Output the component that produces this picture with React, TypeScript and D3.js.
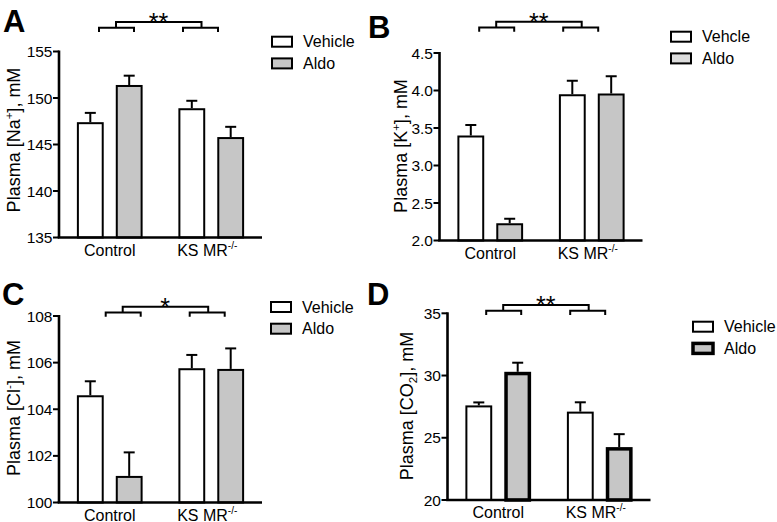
import React from "react";
import * as d3 from "d3";

const categories = ["Control", "KS MR"];
const series = ["Vehicle", "Aldo"];

const naVehicle = [147.4, 148.9];
const naVehicleErr = [1.0, 0.8];
const naAldo = [151.4, 145.8];
const naAldoErr = [1.0, 1.1];
const naTicks = [135, 140, 145, 150, 155];

const kVehicle = [3.4, 3.95];
const kVehicleErr = [0.14, 0.18];
const kAldo = [2.23, 3.96];
const kAldoErr = [0.06, 0.23];
const kTicks = [2.0, 2.5, 3.0, 3.5, 4.0, 4.5];

const clVehicle = [104.6, 105.76];
const clVehicleErr = [0.6, 0.57];
const clAldo = [101.14, 105.73];
const clAldoErr = [1.01, 0.88];
const clTicks = [100, 102, 104, 106, 108];

const co2Vehicle = [27.6, 27.1];
const co2VehicleErr = [0.24, 0.75];
const co2Aldo = [30.3, 24.25];
const co2AldoErr = [0.73, 1.04];
const co2Ticks = [20, 25, 30, 35];

const FONT = "'Liberation Sans', Arial, Helvetica, sans-serif";

type PanelProps = {
  letter: string;
  letterX: number;
  letterY: number;
  x0: number;
  yTop: number;
  yBot: number;
  domain: [number, number];
  ticks: number[];
  fmt: (v: number) => string;
  vehicle: number[];
  vehicleErr: number[];
  aldo: number[];
  aldoErr: number[];
  titleMain: string;
  titleScript: string;
  titleScriptType: "sup" | "sub";
  titleX: number;
  titleY: number;
  bracketL: number;
  bracketTop: number;
  stars: string;
  legendX: number;
  legendY: number;
  legendText: string[];
  legendAldoFill: string;
  aldoStroke: number;
};

const Panel = (p: PanelProps) => {
  const width = 203;
  const y = d3.scaleLinear().domain(p.domain).range([p.yBot, p.yTop]);
  const xOuter = d3
    .scaleBand<string>()
    .domain(categories)
    .range([p.x0, p.x0 + width])
    .paddingInner(0)
    .paddingOuter(0);
  const xInner = d3
    .scaleBand<string>()
    .domain(series)
    .range([0, xOuter.bandwidth()])
    .paddingInner(0.31)
    .paddingOuter(0.46);
  const vals = [p.vehicle, p.aldo];
  const errs = [p.vehicleErr, p.aldoErr];
  const fills = ["#ffffff", "#c6c6c6"];
  const L = p.x0 + p.bracketL;
  const bt = p.bracketTop;
  const bs = bt + 5.7;
  const be = bs + 4.3;
  const capHalf = 5.5;

  return (
    <g>
      <text x={p.letterX} y={p.letterY} fontSize={31} fontWeight="bold" fontFamily={FONT}>
        {p.letter}
      </text>
      {categories.map((c, ci) =>
        series.map((s, si) => {
          const v = vals[si][ci];
          const e = errs[si][ci];
          const bx = (xOuter(c) as number) + (xInner(s) as number);
          const bw = xInner.bandwidth();
          const cx = bx + bw / 2;
          const sw = si === 1 ? p.aldoStroke : 2;
          return (
            <g key={c + s}>
              <line x1={cx} x2={cx} y1={y(v)} y2={y(v + e)} stroke="#000" strokeWidth={2} />
              <line x1={cx - capHalf} x2={cx + capHalf} y1={y(v + e)} y2={y(v + e)} stroke="#000" strokeWidth={2} />
              <rect
                x={bx + sw / 2}
                y={y(v) + sw / 2}
                width={bw - sw}
                height={p.yBot - y(v) - sw / 2}
                fill={fills[si]}
                stroke="#000"
                strokeWidth={sw}
              />
            </g>
          );
        })
      )}
      <line x1={p.x0} x2={p.x0} y1={p.yTop - 1} y2={p.yBot} stroke="#000" strokeWidth={2.6} />
      {p.ticks.map((t) => (
        <g key={t}>
          <line x1={p.x0 - 6} x2={p.x0} y1={y(t)} y2={y(t)} stroke="#000" strokeWidth={2} />
          <text
            x={p.x0 - 6.5}
            y={y(t)}
            dy="0.36em"
            textAnchor="end"
            fontSize={15.5}
            fontFamily={FONT}
          >
            {p.fmt(t)}
          </text>
        </g>
      ))}
      <line x1={p.x0 - 1.3} x2={p.x0 + width} y1={p.yBot} y2={p.yBot} stroke="#000" strokeWidth={2.6} />
      {categories.map((c, ci) => {
        const cx = (xOuter(c) as number) + xOuter.bandwidth() / 2;
        return (
          <text
            key={c}
            x={cx + (ci === 1 ? -4 : 0)}
            y={p.yBot + 18}
            textAnchor="middle"
            fontSize={16}
            fontFamily={FONT}
          >
            {c}
            {ci === 1 ? (
              <tspan fontSize={10} dy={-7}>
                -/-
              </tspan>
            ) : null}
          </text>
        );
      })}
      <text
        transform={`translate(${p.titleX},${p.titleY}) rotate(-90)`}
        textAnchor="middle"
        fontSize={18}
        fontFamily={FONT}
      >
        {p.titleMain}
        <tspan fontSize={11.5} dy={p.titleScriptType === "sup" ? -7.5 : 4}>
          {p.titleScript}
        </tspan>
        <tspan dy={p.titleScriptType === "sup" ? 7.5 : -4}>], mM</tspan>
      </text>
      <path
        d={`M${L},${be}V${bs}H${L + 35}V${be}`}
        fill="none"
        stroke="#000"
        strokeWidth={2}
      />
      <path
        d={`M${L + 84},${be}V${bs}H${L + 119}V${be}`}
        fill="none"
        stroke="#000"
        strokeWidth={2}
      />
      <path
        d={`M${L + 17},${bs}V${bt}H${L + 102.5}V${bs}`}
        fill="none"
        stroke="#000"
        strokeWidth={2}
      />
      <text
        x={L + 59.5}
        y={bt + 9}
        textAnchor="middle"
        fontSize={25}
        fontFamily={FONT}
        letterSpacing={0}
      >
        {p.stars}
      </text>
      {series.map((s, si) => (
        <g key={s}>
          <rect
            x={p.legendX}
            y={p.legendY + si * 21.7}
            width={20}
            height={10}
            fill={si === 0 ? "#ffffff" : p.legendAldoFill}
            stroke="#000"
            strokeWidth={si === 1 ? p.aldoStroke : 2}
          />
          <text
            x={p.legendX + 31}
            y={p.legendY + si * 21.7 + 10.5}
            fontSize={16}
            fontFamily={FONT}
          >
            {p.legendText[si]}
          </text>
        </g>
      ))}
    </g>
  );
};

export default function App() {
  const f0 = d3.format("d");
  const f1 = d3.format(".1f");
  return (
    <svg
      width={777}
      height={522}
      style={{ position: "fixed", left: 0, top: 0, background: "#fff" }}
    >
      <rect width={777} height={522} fill="#fff" />
      <Panel
        letter="A"
        letterX={3}
        letterY={32}
        x0={59}
        yTop={51.5}
        yBot={237.5}
        domain={[135, 155]}
        ticks={naTicks}
        fmt={f0}
        vehicle={naVehicle}
        vehicleErr={naVehicleErr}
        aldo={naAldo}
        aldoErr={naAldoErr}
        titleMain="Plasma [Na"
        titleScript="+"
        titleScriptType="sup"
        titleX={20}
        titleY={140}
        bracketL={40}
        bracketTop={22}
        stars="**"
        legendX={272}
        legendY={36.7}
        legendText={["Vehicle", "Aldo"]}
        legendAldoFill="#c6c6c6"
        aldoStroke={2}
      />
      <Panel
        letter="B"
        letterX={368}
        letterY={38}
        x0={439.5}
        yTop={53}
        yBot={240.5}
        domain={[2.0, 4.5]}
        ticks={kTicks}
        fmt={f1}
        vehicle={kVehicle}
        vehicleErr={kVehicleErr}
        aldo={kAldo}
        aldoErr={kAldoErr}
        titleMain="Plasma [K"
        titleScript="+"
        titleScriptType="sup"
        titleX={407}
        titleY={146}
        bracketL={39.7}
        bracketTop={21.7}
        stars="**"
        legendX={671}
        legendY={31.7}
        legendText={["Vehcle", "Aldo"]}
        legendAldoFill="#dcdcdc"
        aldoStroke={2}
      />
      <Panel
        letter="C"
        letterX={2}
        letterY={305}
        x0={59}
        yTop={316}
        yBot={502.5}
        domain={[100, 108]}
        ticks={clTicks}
        fmt={f0}
        vehicle={clVehicle}
        vehicleErr={clVehicleErr}
        aldo={clAldo}
        aldoErr={clAldoErr}
        titleMain="Plasma [Cl"
        titleScript="-"
        titleScriptType="sup"
        titleX={20}
        titleY={408}
        bracketL={46.7}
        bracketTop={306.7}
        stars="*"
        legendX={271}
        legendY={302}
        legendText={["Vehicle", "Aldo"]}
        legendAldoFill="#c6c6c6"
        aldoStroke={2}
      />
      <Panel
        letter="D"
        letterX={367}
        letterY={305}
        x0={447.5}
        yTop={313.3}
        yBot={500}
        domain={[20, 35]}
        ticks={co2Ticks}
        fmt={f0}
        vehicle={co2Vehicle}
        vehicleErr={co2VehicleErr}
        aldo={co2Aldo}
        aldoErr={co2AldoErr}
        titleMain="Plasma [CO"
        titleScript="2"
        titleScriptType="sub"
        titleX={413}
        titleY={406}
        bracketL={38.7}
        bracketTop={305}
        stars="**"
        legendX={693}
        legendY={321.7}
        legendText={["Vehicle", "Aldo"]}
        legendAldoFill="#c6c6c6"
        aldoStroke={3.5}
      />
    </svg>
  );
}
